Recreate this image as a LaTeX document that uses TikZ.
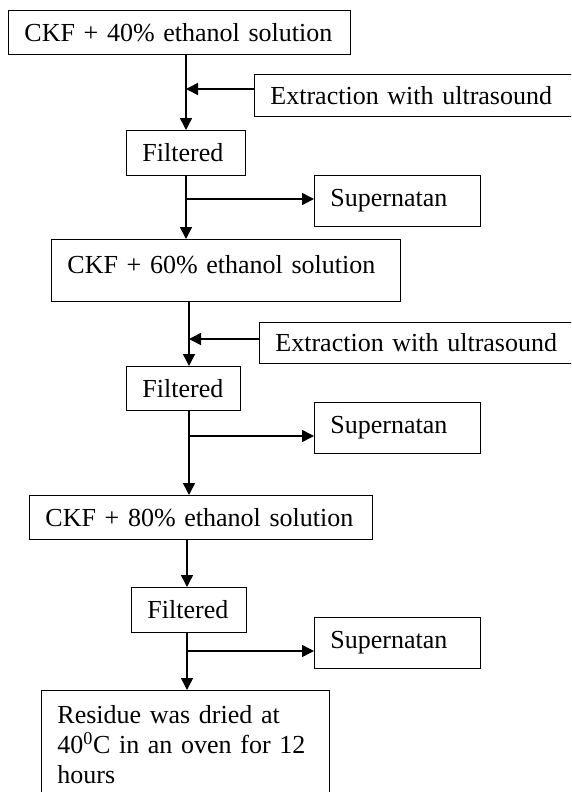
\documentclass[tikz,border=0pt]{standalone}
\usepackage{fontspec}
\setmainfont{Liberation Serif}
\usepackage{tikz}
\usetikzlibrary{arrows.meta}
\newcommand{\flowfont}{\fontsize{26}{30}\selectfont}

\begin{document}
\begin{tikzpicture}[x=1pt, y=-1pt,
flowbox/.style={rectangle, anchor=north west, align=left, draw=black, line width=0.9pt, inner xsep=16pt, font=\flowfont},
flowline/.style={line width=1.5pt, -{Triangle[length=12pt,width=12pt]}},
]
\useasboundingbox (0,0) rectangle (571,792);
\clip (0,0) rectangle (571,792);

%Nodes
\node[flowbox, text width=310pt, minimum height=44pt](Mix40) at (8,10) {CKF + 40\% ethanol solution};
\node[flowbox, text width=287pt, minimum height=42pt](Ultra1) at (254,74) {Extraction with ultrasound};
\node[flowbox, text width=87pt, minimum height=45pt](Filter1) at (126,130) {Filtered};
\node[flowbox, text width=134pt, minimum height=51pt](Super1) at (314,175) {Supernatan};
\node[flowbox, text width=317pt, minimum height=62pt, text depth=12pt](Mix60) at (51,239) {CKF + 60\% ethanol solution};
\node[flowbox, text width=282pt, minimum height=41pt](Ultra2) at (259,322) {Extraction with ultrasound};
\node[flowbox, text width=82pt, minimum height=44pt](Filter2) at (126,366) {Filtered};
\node[flowbox, text width=134pt, minimum height=51pt](Super2) at (314,402) {Supernatan};
\node[flowbox, text width=311pt, minimum height=44pt](Mix80) at (29,495) {CKF + 80\% ethanol solution};
\node[flowbox, text width=83pt, minimum height=45pt](Filter3) at (131,587) {Filtered};
\node[flowbox, text width=134pt, minimum height=51pt](Super3) at (314,617) {Supernatan};
\node[flowbox, text width=256pt, inner ysep=15pt](Residue) at (41,690) {Residue was dried at\\40\textsuperscript{0}C in an oven for 12\\hours};

%Junctions
\coordinate (in1) at (186,89);
\coordinate (out1) at (186,199);
\coordinate (in2) at (189,339);
\coordinate (out2) at (189,436);
\coordinate (out3) at (187,651);

%Lines
\draw[flowline] (Mix40.south -| in1) -- (Filter1.north -| in1);
\draw[flowline] (Ultra1.west |- in1) -- (in1);
\draw[flowline] (Filter1.south -| out1) -- (Mix60.north -| out1);
\draw[flowline] (out1) -- (Super1.west |- out1);
\draw[flowline] (Mix60.south -| in2) -- (Filter2.north -| in2);
\draw[flowline] (Ultra2.west |- in2) -- (in2);
\draw[flowline] (Filter2.south -| out2) -- (Mix80.north -| out2);
\draw[flowline] (out2) -- (Super2.west |- out2);
\draw[flowline] (Mix80.south -| out3) -- (Filter3.north -| out3);
\draw[flowline] (Filter3.south -| out3) -- (Residue.north -| out3);
\draw[flowline] (out3) -- (Super3.west |- out3);
\end{tikzpicture}
\end{document}
